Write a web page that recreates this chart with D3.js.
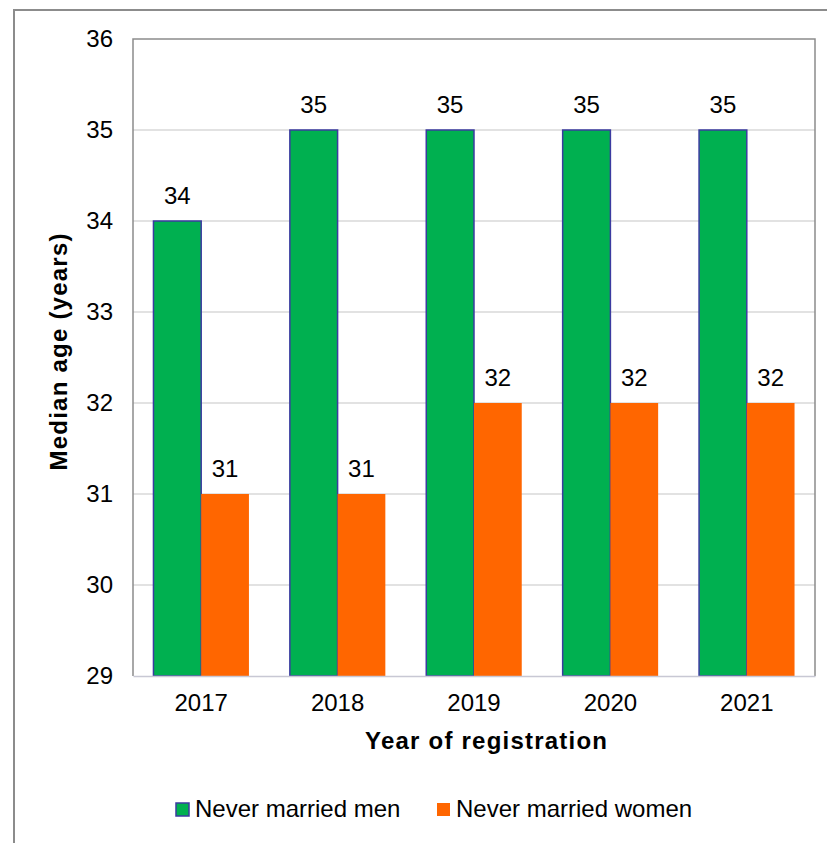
<!DOCTYPE html>
<html>
<head>
<meta charset="utf-8">
<script src="https://cdn.jsdelivr.net/npm/d3@7"></script>
<style>
  html, body { margin: 0; padding: 0; background: #fff; }
  svg { display: block; font-family: "Liberation Sans", Arial, sans-serif; }
</style>
</head>
<body>
<svg id="chart" width="827" height="843"></svg>
<script>
// Median age at marriage, never married men vs women, by year of registration
const years = ["2017", "2018", "2019", "2020", "2021"];
const seriesNames = ["Never married men", "Never married women"];
const menValues = [34, 35, 35, 35, 35];
const womenValues = [31, 31, 32, 32, 32];
const yTicks = [29, 30, 31, 32, 33, 34, 35, 36];

const colors = { "Never married men": "#00b050", "Never married women": "#ff6600" };
const fontSize = 24;

const svg = d3.select("#chart");
const plot = { left: 133, right: 815, top: 39, bottom: 676 };

// outer frame
svg.append("path")
  .attr("d", `M14,843 L14,10 L827,10`)
  .attr("fill", "none").attr("stroke", "#8c8c8c").attr("stroke-width", 2);

const x0 = d3.scaleBand().domain(years).range([plot.left, plot.right]);
const bw = x0.bandwidth();
const x1 = d3.scaleBand().domain(seriesNames).range([bw * 0.15, bw * 0.85]);
const y = d3.scaleLinear().domain([29, 36]).range([plot.bottom, plot.top]);

// gridlines
svg.append("g").selectAll("line").data(yTicks.slice(1, -1)).join("line")
  .attr("x1", plot.left).attr("x2", plot.right)
  .attr("y1", d => y(d)).attr("y2", d => y(d))
  .attr("stroke", "#d9d9d9").attr("stroke-width", 1.5);

const rows = years.map((yr, i) => ({
  year: yr,
  vals: [
    { key: seriesNames[0], value: menValues[i] },
    { key: seriesNames[1], value: womenValues[i] }
  ]
}));

const groups = svg.append("g").selectAll("g").data(rows).join("g")
  .attr("transform", d => `translate(${x0(d.year)},0)`);

groups.selectAll("rect").data(d => d.vals).join("rect")
  .attr("x", d => x1(d.key))
  .attr("y", d => y(d.value))
  .attr("width", x1.bandwidth())
  .attr("height", d => y(29) - y(d.value))
  .attr("fill", d => colors[d.key])
  .attr("stroke", d => d.key === seriesNames[0] ? "#3b3ba0" : "none")
  .attr("stroke-width", 1.5);

groups.selectAll("text.val").data(d => d.vals).join("text")
  .attr("class", "val")
  .attr("x", d => x1(d.key) + x1.bandwidth() / 2)
  .attr("y", d => y(d.value) - 17)
  .attr("text-anchor", "middle")
  .attr("font-size", fontSize)
  .attr("fill", "#000")
  .text(d => d.value);

// plot frame: left, top, right
svg.append("path")
  .attr("d", `M${plot.left},${plot.bottom} L${plot.left},${plot.top} L${plot.right},${plot.top} L${plot.right},${plot.bottom}`)
  .attr("fill", "none").attr("stroke", "#8c8c8c").attr("stroke-width", 1.5);

// y axis
const yAxis = svg.append("g")
  .attr("transform", `translate(${plot.left},0)`)
  .call(d3.axisLeft(y).tickValues(yTicks).tickFormat(d3.format("d")).tickSize(0).tickPadding(20));
yAxis.select(".domain").remove();
yAxis.selectAll("text").attr("font-size", fontSize).attr("font-family", null).attr("fill", "#000");

// x axis
const xAxis = svg.append("g")
  .attr("transform", `translate(0,${plot.bottom})`)
  .call(d3.axisBottom(x0).tickSize(0).tickPadding(18));
xAxis.select(".domain").attr("stroke", "#c8c8d4").attr("stroke-width", 1.5);
xAxis.selectAll("text").attr("font-size", fontSize).attr("font-family", null).attr("fill", "#000");

// axis titles
svg.append("text")
  .attr("x", 486)
  .attr("y", 749)
  .attr("text-anchor", "middle")
  .attr("font-size", fontSize).attr("font-weight", "bold")
  .attr("textLength", 242).attr("lengthAdjust", "spacing")
  .text("Year of registration");

svg.append("text")
  .attr("transform", `translate(67,352) rotate(-90)`)
  .attr("text-anchor", "middle")
  .attr("font-size", fontSize).attr("font-weight", "bold")
  .attr("textLength", 237).attr("lengthAdjust", "spacing")
  .text("Median age (years)");

// legend
const legendItems = [
  { key: seriesNames[0], x: 176 },
  { key: seriesNames[1], x: 437 }
];
const lg = svg.append("g").selectAll("g").data(legendItems).join("g")
  .attr("transform", d => `translate(${d.x},803)`);
lg.append("rect")
  .attr("width", 13).attr("height", 13)
  .attr("fill", d => colors[d.key])
  .attr("stroke", d => d.key === seriesNames[0] ? "#3b3ba0" : "none")
  .attr("stroke-width", 1.5);
lg.append("text")
  .attr("x", 19).attr("y", 14)
  .attr("font-size", fontSize)
  .text(d => d.key);
</script>
</body>
</html>
